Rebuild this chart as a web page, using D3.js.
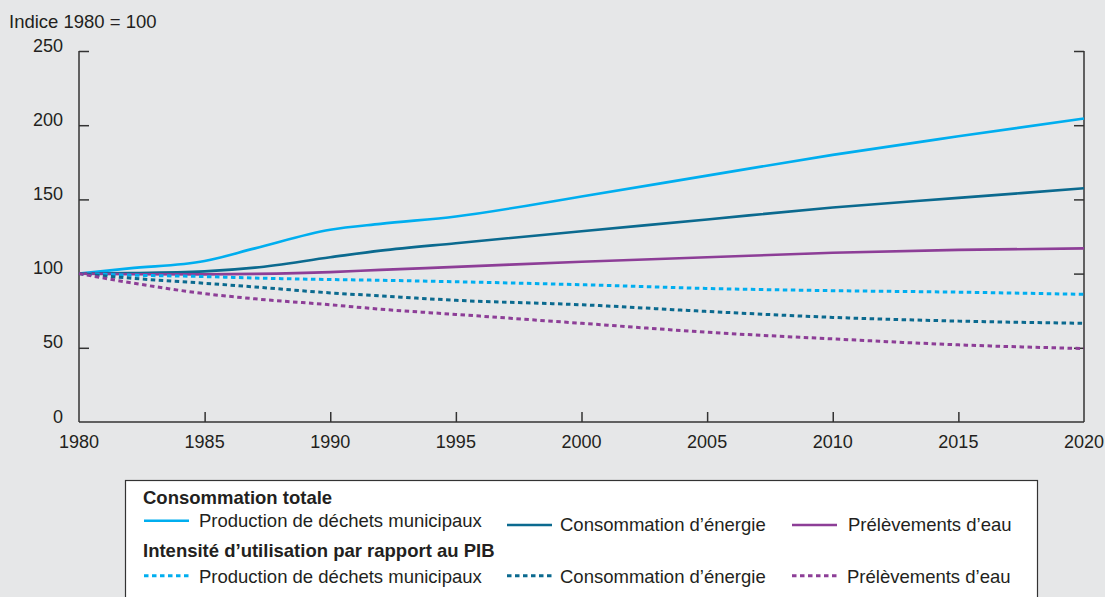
<!DOCTYPE html>
<html><head><meta charset="utf-8">
<script src="https://cdn.jsdelivr.net/npm/d3@7"></script>
<style>
body{margin:0;background:#e6e7e8;}
svg{display:block;font-family:"Liberation Sans",Arial,sans-serif;}
</style></head>
<body><svg id="c" width="1105" height="597"></svg>
<script>
const years = [1980,1982,1985,1987,1990,1992,1995,2000,2005,2010,2015,2020];
const wasteTotal   = [100,103.5,108.5,117,129.5,133.5,138.5,152,166,180,192.5,204.5];
const energyTotal  = [100,100.3,101.5,104,111,115.5,120.5,128.5,136.5,144.5,151,157.5];
const waterTotal   = [100,99.6,99.5,99.8,101,102.5,104.5,108,111,114,116,117];
const wasteInt     = [100,99,98,97,96,95.5,94.5,92.5,90,88.5,87.5,86];
const energyInt    = [100,97,93.5,91,87,85,82,79,74.5,70.5,68,66.5];
const waterInt     = [100,94,86.5,83,79,76,72.5,66.5,60.5,56,52,49.5];
const xTicks = [1980,1985,1990,1995,2000,2005,2010,2015,2020];
const yTicks = [0,50,100,150,200,250];
const seriesNames = ["Production de déchets municipaux","Consommation d’énergie","Prélèvements d’eau"];
const groupTitles = ["Consommation totale","Intensité d’utilisation par rapport au PIB"];
const yTitle = "Indice 1980 = 100";

const colors = ["#00aeef","#0b6a8f","#8d3e97"];
const series = [
  {v:wasteTotal,c:0,d:false},{v:energyTotal,c:1,d:false},{v:waterTotal,c:2,d:false},
  {v:wasteInt,c:0,d:true},{v:energyInt,c:1,d:true},{v:waterInt,c:2,d:true}
];

const svg = d3.select("#c");
const x = d3.scaleLinear().domain([1980,2020]).range([79,1084]);
const y = d3.scaleLinear().domain([0,250]).range([422,51]);
const axCol = "#333";
const txtCol = "#231f20";

// axes
const gL = svg.append("g").attr("transform","translate(79,0)")
  .call(d3.axisRight(y).tickValues(yTicks.slice(1)).tickSize(10).tickFormat(""));
const gR = svg.append("g").attr("transform","translate(1084,0)")
  .call(d3.axisLeft(y).tickValues(yTicks.slice(1)).tickSize(10).tickFormat(""));
const gB = svg.append("g").attr("transform","translate(0,422)")
  .call(d3.axisTop(x).tickValues(xTicks.slice(1,-1)).tickSize(10).tickFormat(""));
[gL,gR,gB].forEach(g=>{
  g.select(".domain").remove();
  g.selectAll(".tick line").attr("stroke",axCol).attr("stroke-width",1.5);
});
svg.append("line").attr("x1",x(1980)).attr("x2",x(1980)).attr("y1",y(250)).attr("y2",y(0)).attr("stroke",axCol).attr("stroke-width",1.5);
svg.append("line").attr("x1",x(2020)).attr("x2",x(2020)).attr("y1",y(250)).attr("y2",y(0)).attr("stroke",axCol).attr("stroke-width",1.5);
svg.append("line").attr("x1",x(1980)).attr("x2",x(2020)).attr("y1",y(0)).attr("y2",y(0)).attr("stroke",axCol).attr("stroke-width",1.5);

const fsTick = 18, fs = 18.5;
svg.append("g").selectAll("text").data(yTicks).join("text")
  .attr("x",63).attr("y",d=>y(d)+0.5).attr("text-anchor","end")
  .attr("font-size",fsTick).attr("fill",txtCol).text(d=>d);
svg.append("g").selectAll("text").data(xTicks).join("text")
  .attr("x",d=>x(d)).attr("y",447.5).attr("text-anchor","middle")
  .attr("font-size",fsTick).attr("fill",txtCol).text(d=>d);
svg.append("text").attr("x",9).attr("y",28).attr("font-size",fs).attr("fill",txtCol).text(yTitle);

// lines
const line = d3.line().x((d,i)=>x(years[i])).y(d=>y(d)).curve(d3.curveMonotoneX);
series.forEach(s=>{
  svg.append("path").attr("d",line(s.v)).attr("fill","none")
    .attr("stroke",colors[s.c]).attr("stroke-width",s.d?3:2.6)
    .attr("stroke-dasharray",s.d?"4.5,3.5":null);
});

// legend
svg.append("rect").attr("x",125.5).attr("y",480.5).attr("width",912).attr("height",130)
  .attr("fill","#fff").attr("stroke","#333").attr("stroke-width",1.2);
const titleY = [504, 557];
const lineY = [[520.7,525,525],[575.7,575.7,575.7]];
const textY = [[527,531,531],[582.5,582.5,582.5]];
const lineX = [144,507,792];
const textX = [[199,560,848],[199,560,847]];
groupTitles.forEach((t,gi)=>{
  svg.append("text").attr("x",143).attr("y",titleY[gi]).attr("font-size",fs).attr("font-weight","bold")
    .attr("fill",txtCol).text(t);
  seriesNames.forEach((n,i)=>{
    svg.append("line").attr("x1",lineX[i]).attr("x2",lineX[i]+45)
      .attr("y1",lineY[gi][i]).attr("y2",lineY[gi][i]).attr("stroke",colors[i])
      .attr("stroke-width",gi?3:2.6).attr("stroke-dasharray",gi?"4.5,3.5":null);
    svg.append("text").attr("x",textX[gi][i]).attr("y",textY[gi][i]).attr("font-size",fs)
      .attr("fill",txtCol).text(n);
  });
});
</script></body></html>
